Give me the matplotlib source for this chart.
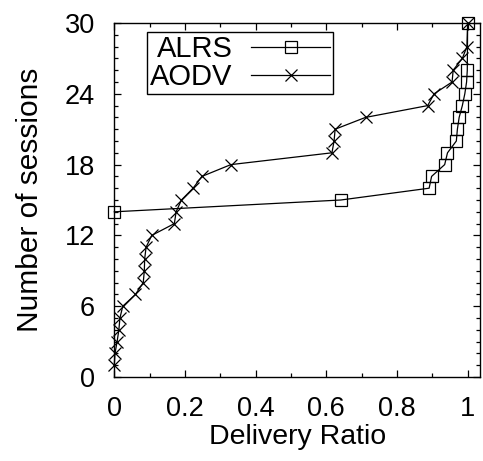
import matplotlib
matplotlib.use('Agg')
import matplotlib.pyplot as plt
from matplotlib.ticker import MultipleLocator

plt.rcParams['font.family'] = ['Liberation Sans', 'DejaVu Sans']

# sorted delivery ratio vs cumulative number of sessions
alrs_ratio = [0, 0.641, 0.891, 0.898, 0.935, 0.943, 0.968, 0.971, 0.976,
              0.985, 0.992, 0.997, 0.999, 1.0]
alrs_sessions = [14, 15, 16, 17, 18, 19, 20, 21, 22, 23, 24, 25, 26, 30]

aodv_ratio = [0, 0.002, 0.008, 0.013, 0.016, 0.024, 0.06, 0.082, 0.085,
              0.086, 0.09, 0.106, 0.17, 0.175, 0.19, 0.223, 0.248, 0.33,
              0.616, 0.622, 0.625, 0.711, 0.887, 0.905, 0.956, 0.959,
              0.985, 0.998, 1.0]
aodv_sessions = [1, 2, 3, 4, 5, 6, 7, 8, 9, 10, 11, 12, 13, 14, 15, 16,
                 17, 18, 19, 20, 21, 22, 23, 24, 25, 26, 27, 28, 30]

xticks = [0, 0.2, 0.4, 0.6, 0.8, 1]
xticklabels = ['0', '0.2', '0.4', '0.6', '0.8', '1']
yticks = [0, 6, 12, 18, 24, 30]

fig = plt.figure(figsize=(4.83, 4.61), dpi=100)
ax = fig.add_axes([0.2366, 0.1822, 0.7572, 0.7679])

ax.plot(alrs_ratio, alrs_sessions, color='black', lw=0.9, marker='s',
        markersize=8.5, markerfacecolor='none', markeredgewidth=0.9,
        label='ALRS', clip_on=False)
ax.plot(aodv_ratio, aodv_sessions, color='black', lw=0.9, marker='x',
        markersize=8, markeredgewidth=0.9, label='AODV', clip_on=False)

ax.set_xlim(0, 1.035)
ax.set_ylim(0, 30)
ax.set_xticks(xticks)
ax.set_xticklabels(xticklabels)
ax.set_yticks(yticks)
ax.xaxis.set_minor_locator(MultipleLocator(0.1))
ax.yaxis.set_minor_locator(MultipleLocator(1))
ax.tick_params(which='both', direction='in', top=True, right=True,
               labelsize=19.5, width=0.9)
ax.tick_params(which='major', length=5, pad=14)
ax.tick_params(which='minor', length=3)
for s in ax.spines.values():
    s.set_linewidth(1.0)

ax.set_xlabel('Delivery Ratio', fontsize=20.5, labelpad=1)
ax.set_ylabel('Number of sessions', fontsize=21.5, labelpad=15)

leg = ax.legend(loc='upper left', bbox_to_anchor=(0.09, 0.975),
                markerfirst=False, fontsize=21, frameon=True, fancybox=False,
                edgecolor='black', framealpha=1, handlelength=2.7,
                handletextpad=0.65, borderpad=0.1, labelspacing=0.0,
                borderaxespad=0)
leg.get_frame().set_linewidth(1.0)

fig.savefig('out.png', dpi=100)
